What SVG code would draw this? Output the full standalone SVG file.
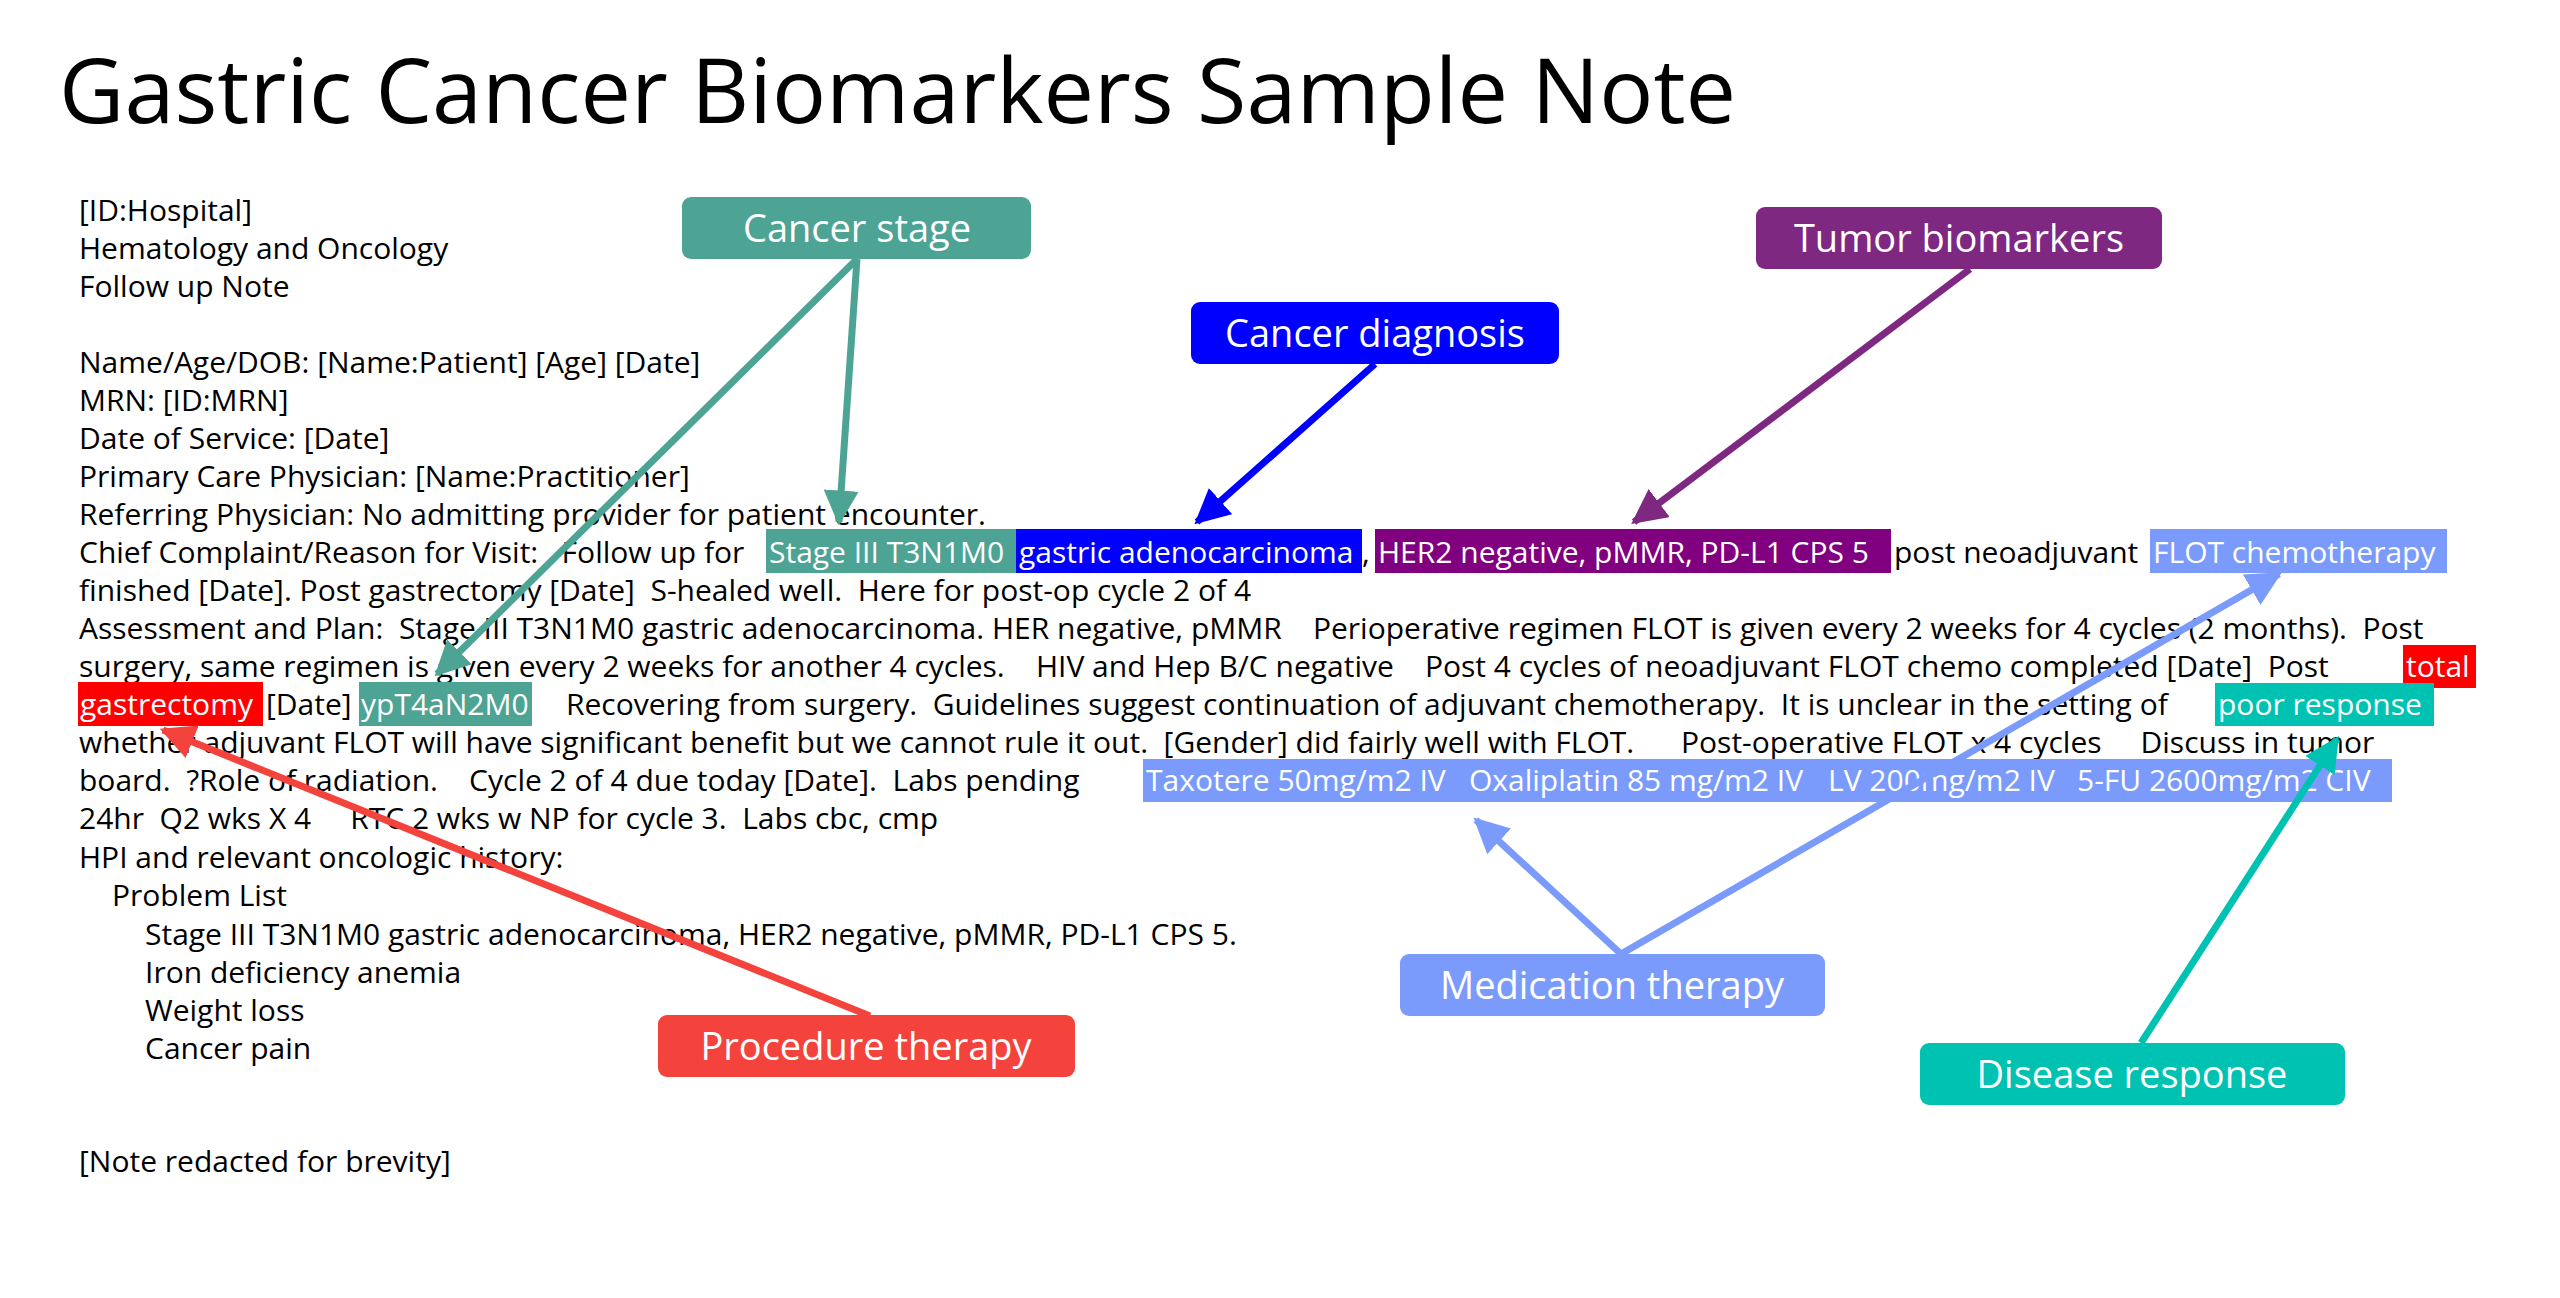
<svg xmlns="http://www.w3.org/2000/svg" width="2560" height="1298" viewBox="0 0 2560 1298">
<style>
text{font-family:"Open Sans","Noto Sans",sans-serif;white-space:pre}
.t{font-size:30px;fill:#000}
.h{font-size:30px;fill:#fff}
.lb{font-size:38px;fill:#fff;text-anchor:middle}
.c{fill:none;stroke-width:7}
</style>
<defs>
<marker id="mT" viewBox="0 0 10 10" refX="9" refY="5" markerWidth="5" markerHeight="5" orient="auto" markerUnits="strokeWidth"><path d="M0,0L10,5L0,10z" fill="#4DA394"/></marker>
<marker id="mB" viewBox="0 0 10 10" refX="9" refY="5" markerWidth="5" markerHeight="5" orient="auto" markerUnits="strokeWidth"><path d="M0,0L10,5L0,10z" fill="#0000FF"/></marker>
<marker id="mP" viewBox="0 0 10 10" refX="9" refY="5" markerWidth="5" markerHeight="5" orient="auto" markerUnits="strokeWidth"><path d="M0,0L10,5L0,10z" fill="#7E2882"/></marker>
<marker id="mR" viewBox="0 0 10 10" refX="9" refY="5" markerWidth="5" markerHeight="5" orient="auto" markerUnits="strokeWidth"><path d="M0,0L10,5L0,10z" fill="#F4433C"/></marker>
<marker id="mM" viewBox="0 0 10 10" refX="9" refY="5" markerWidth="5" markerHeight="5" orient="auto" markerUnits="strokeWidth"><path d="M0,0L10,5L0,10z" fill="#7B9BFC"/></marker>
<marker id="mD" viewBox="0 0 10 10" refX="9" refY="5" markerWidth="5" markerHeight="5" orient="auto" markerUnits="strokeWidth"><path d="M0,0L10,5L0,10z" fill="#00C2B2"/></marker>
</defs>
<rect width="2560" height="1298" fill="#fff"/>
<text x="59" y="123" style="font-size:90px" fill="#000">Gastric Cancer Biomarkers Sample Note</text>
<g id="note">
<text class="t" x="79" y="221">[ID:Hospital]</text>
<text class="t" x="79" y="259">Hematology and Oncology</text>
<text class="t" x="79" y="297">Follow up Note</text>
<text class="t" x="79" y="373">Name/Age/DOB: [Name:Patient] [Age] [Date]</text>
<text class="t" x="79" y="411">MRN: [ID:MRN]</text>
<text class="t" x="79" y="449">Date of Service: [Date]</text>
<text class="t" x="79" y="487">Primary Care Physician: [Name:Practitioner]</text>
<text class="t" x="79" y="525">Referring Physician: No admitting provider for patient encounter.</text>
<rect x="766" y="529" width="250" height="44" fill="#4DA394"/>
<rect x="1016" y="529" width="346" height="44" fill="#0000FF"/>
<rect x="1375" y="529" width="516" height="44" fill="#800080"/>
<rect x="2150" y="529" width="297" height="44" fill="#7B9BFC"/>
<text class="t" x="79" y="563">Chief Complaint/Reason for Visit:   Follow up for </text>
<text class="h" x="769" y="563">Stage III T3N1M0</text>
<text class="h" x="1019" y="563">gastric adenocarcinoma</text>
<text class="t" x="1362" y="563">,</text>
<text class="h" x="1378" y="563">HER2 negative, pMMR, PD-L1 CPS 5</text>
<text class="t" x="1894" y="563">post neoadjuvant</text>
<text class="h" x="2153" y="563">FLOT chemotherapy</text>
<text class="t" x="79" y="601">finished [Date]. Post gastrectomy [Date]  S-healed well.  Here for post-op cycle 2 of 4</text>
<text class="t" x="79" y="639">Assessment and Plan:  Stage III T3N1M0 gastric adenocarcinoma. HER negative, pMMR    Perioperative regimen FLOT is given every 2 weeks for 4 cycles (2 months).  Post</text>
<rect x="2403" y="645" width="73" height="43" fill="#FF0000"/>
<text class="t" x="79" y="677">surgery, same regimen is given every 2 weeks for another 4 cycles.    HIV and Hep B/C negative    Post 4 cycles of neoadjuvant FLOT chemo completed [Date]  Post</text>
<text class="h" x="2406" y="677">total</text>
<rect x="78" y="682" width="185" height="44" fill="#FF0000"/>
<rect x="359" y="682" width="173" height="44" fill="#4DA394"/>
<rect x="2215" y="683" width="219" height="43" fill="#00C2B2"/>
<text class="h" x="80" y="715">gastrectomy</text>
<text class="t" x="266" y="715">[Date]</text>
<text class="h" x="361" y="715">ypT4aN2M0</text>
<text class="t" x="566" y="715">Recovering from surgery.  Guidelines suggest continuation of adjuvant chemotherapy.  It is unclear in the setting of</text>
<text class="h" x="2218" y="715">poor response</text>
<text class="t" x="79" y="753">whether adjuvant FLOT will have significant benefit but we cannot rule it out.  [Gender] did fairly well with FLOT.      Post-operative FLOT x 4 cycles     Discuss in tumor</text>
<rect x="1143" y="759" width="1249" height="43" fill="#7B9BFC"/>
<text class="t" x="79" y="791">board.  ?Role of radiation.    Cycle 2 of 4 due today [Date].  Labs pending</text>
<text class="h" x="1146" y="791">Taxotere 50mg/m2 IV</text>
<text class="h" x="1469" y="791">Oxaliplatin 85 mg/m2 IV</text>
<text class="h" x="1828" y="791">LV 200mg/m2 IV</text>
<text class="h" x="2077" y="791">5-FU 2600mg/m2 CIV</text>
<text class="t" x="79" y="829">24hr  Q2 wks X 4     RTC 2 wks w NP for cycle 3.  Labs cbc, cmp</text>
<text class="t" x="79" y="868">HPI and relevant oncologic history:</text>
<text class="t" x="112" y="906">Problem List</text>
<text class="t" x="145" y="945">Stage III T3N1M0 gastric adenocarcinoma, HER2 negative, pMMR, PD-L1 CPS 5.</text>
<text class="t" x="145" y="983">Iron deficiency anemia</text>
<text class="t" x="145" y="1021">Weight loss</text>
<text class="t" x="145" y="1059">Cancer pain</text>
<text class="t" x="79" y="1172">[Note redacted for brevity]</text>
</g>
<g id="connectors">
<line class="c" stroke="#4DA394" x1="857" y1="259" x2="839" y2="522" marker-end="url(#mT)"/>
<line class="c" stroke="#4DA394" x1="857" y1="259" x2="437" y2="674" marker-end="url(#mT)"/>
<line class="c" stroke="#0000FF" x1="1375" y1="364" x2="1197" y2="522" marker-end="url(#mB)"/>
<line class="c" stroke="#7E2882" x1="1970" y1="269" x2="1634" y2="522" marker-end="url(#mP)"/>
<line class="c" stroke="#F4433C" x1="870" y1="1016" x2="163" y2="730" marker-end="url(#mR)"/>
<line class="c" stroke="#7B9BFC" x1="1621" y1="954" x2="1476" y2="820" marker-end="url(#mM)"/>
<line class="c" stroke="#7B9BFC" x1="1621" y1="954" x2="2279" y2="574" marker-end="url(#mM)"/>
<line class="c" stroke="#00C2B2" x1="2141" y1="1043" x2="2337" y2="739" marker-end="url(#mD)"/>
</g>
<g id="cancer-stage"><rect x="682" y="197" width="349" height="62" rx="9" fill="#4DA394"/><text class="lb" x="857" y="242">Cancer stage</text></g>
<g id="cancer-diagnosis"><rect x="1191" y="302" width="368" height="62" rx="9" fill="#0000FF"/><text class="lb" x="1375" y="347">Cancer diagnosis</text></g>
<g id="tumor-biomarkers"><rect x="1756" y="207" width="406" height="62" rx="9" fill="#7E2882"/><text class="lb" x="1959" y="252">Tumor biomarkers</text></g>
<g id="procedure-therapy"><rect x="658" y="1015" width="417" height="62" rx="9" fill="#F4433C"/><text class="lb" x="866" y="1060">Procedure therapy</text></g>
<g id="medication-therapy"><rect x="1400" y="954" width="425" height="62" rx="9" fill="#7B9BFC"/><text class="lb" x="1612" y="999">Medication therapy</text></g>
<g id="disease-response"><rect x="1920" y="1043" width="425" height="62" rx="9" fill="#00C2B2"/><text class="lb" x="2132" y="1088">Disease response</text></g>
</svg>
